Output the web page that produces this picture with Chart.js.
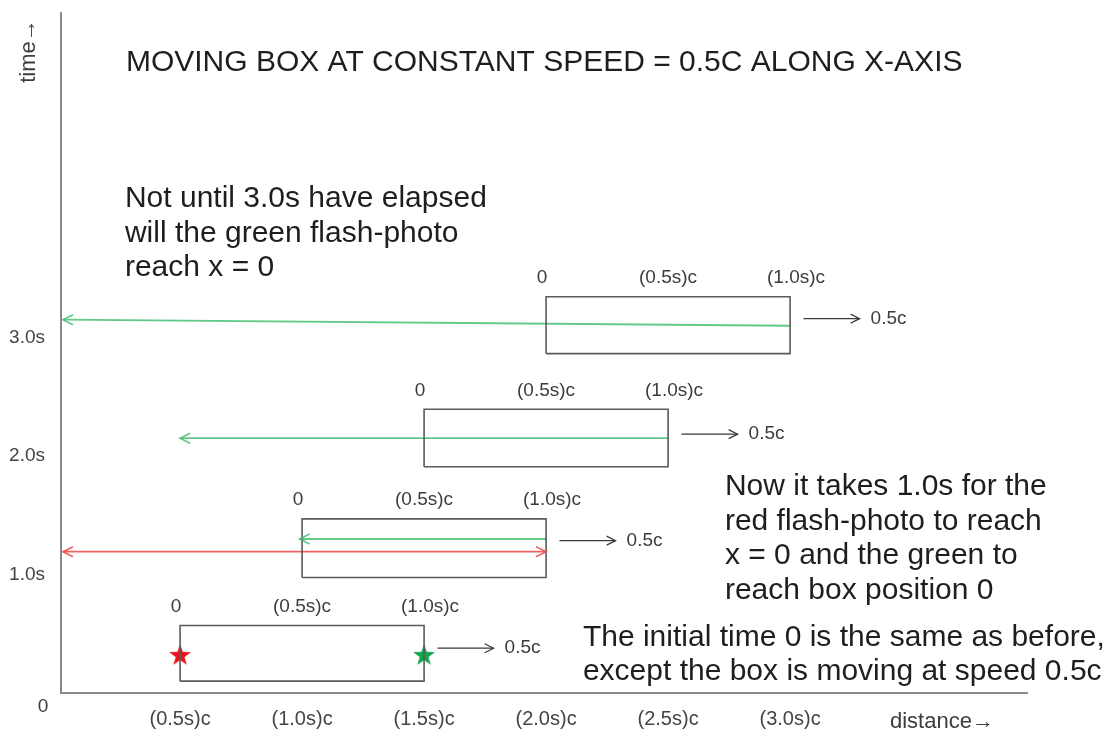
<!DOCTYPE html>
<html>
<head>
<meta charset="utf-8">
<script src="https://cdn.jsdelivr.net/npm/chart.js@4"></script>
<style>
  html, body { margin: 0; background: #fff; }
  #wrap { width: 1114px; height: 732px; position: relative; }
</style>
</head>
<body>
<div id="wrap"><canvas id="diagram"></canvas></div>
<script>
// axis ticks
const xTicks = [0.5, 1.0, 1.5, 2.0, 2.5, 3.0];
const xTickLabels = ['(0.5s)c', '(1.0s)c', '(1.5s)c', '(2.0s)c', '(2.5s)c', '(3.0s)c'];
const yTicks = [1, 2, 3];
const yTickLabels = ['1.0s', '2.0s', '3.0s'];

// the moving box at four moments (distance units, row height units)
const boxLeft   = [0.5, 1.0, 1.5, 2.0];
const boxRight  = [1.5, 2.0, 2.5, 3.0];
const boxBottom = [0.10, 0.975, 1.91, 2.865];
const boxTop    = [0.57, 1.47, 2.395, 3.345];
const boxMarks  = ['0', '(0.5s)c', '(1.0s)c'];
const speedY    = [0.378, 1.286, 2.185, 3.16];
const speedText = '0.5c';

// flash-photo light paths
const flashKind  = ['green', 'green', 'red', 'green'];
const flashFromX = [3.0, 2.5, 0.02, 2.0];
const flashFromY = [3.10, 2.151, 1.193, 1.30];
const flashToX   = [0.02, 0.5, 2.0, 0.99];
const flashToY   = [3.151, 2.151, 1.193, 1.30];
const flashBoth  = [false, false, true, false];

// flashes going off at time 0
const starKind = ['red', 'green'];
const starX = [0.5, 1.5];
const starY = [0.32, 0.32];

const title = 'MOVING BOX AT CONSTANT SPEED = 0.5C ALONG X-AXIS';
const notes = [
  { x: 0.274, y: 4.17, lines: ['Not until 3.0s have elapsed', 'will the green flash-photo', 'reach x = 0'] },
  { x: 2.733, y: 1.74, lines: ['Now it takes 1.0s for the', 'red flash-photo to reach', 'x = 0 and the green to', 'reach box position 0'] },
  { x: 2.151, y: 0.47, lines: ['The initial time 0 is the same as before,', 'except the box is moving at speed 0.5c'] }
];
const titlePos = { x: 0.278, y: 5.32 };

const FONT = '"Liberation Sans", Arial, sans-serif';
const colors = { green: 'rgba(70, 190, 115, 0.85)', red: 'rgba(240, 80, 80, 0.9)' };
const starColors = { red: '#e8141b', green: '#12a64c' };

function makeStar(color) {
  const c = document.createElement('canvas');
  c.width = 24; c.height = 24;
  const g = c.getContext('2d');
  g.fillStyle = color;
  g.beginPath();
  for (let i = 0; i < 10; i++) {
    const r = i % 2 ? 4.6 : 11.5;
    const a = -Math.PI / 2 + i * Math.PI / 5;
    g.lineTo(12 + r * Math.cos(a), 12.5 + r * Math.sin(a));
  }
  g.closePath();
  g.fill();
  return c;
}

function arrowHead(ctx, x1, y1, x2, y2, len, half) {
  const a = Math.atan2(y2 - y1, x2 - x1);
  const c = Math.cos(a), s = Math.sin(a);
  ctx.beginPath();
  ctx.moveTo(x2 - len * c + half * s, y2 - len * s - half * c);
  ctx.lineTo(x2, y2);
  ctx.lineTo(x2 - len * c - half * s, y2 - len * s + half * c);
  ctx.stroke();
}

const datasets = [];
boxLeft.forEach((l, i) => {
  datasets.push({
    role: 'box',
    data: [
      { x: l, y: boxBottom[i] }, { x: boxRight[i], y: boxBottom[i] },
      { x: boxRight[i], y: boxTop[i] }, { x: l, y: boxTop[i] }, { x: l, y: boxBottom[i] }
    ],
    borderColor: '#5a5a5a',
    borderWidth: 1.6
  });
});
flashKind.forEach((k, i) => {
  datasets.push({
    role: 'flash',
    index: i,
    data: [{ x: flashFromX[i], y: flashFromY[i] }, { x: flashToX[i], y: flashToY[i] }],
    borderColor: colors[k],
    borderWidth: 1.8
  });
});
boxRight.forEach((r, i) => {
  datasets.push({
    role: 'speed',
    data: [{ x: r + 0.055, y: speedY[i] }, { x: r + 0.285, y: speedY[i] }],
    borderColor: '#3a3a3a',
    borderWidth: 1.2
  });
});
datasets.push({
  role: 'star',
  data: starX.map((x, i) => ({ x: x, y: starY[i] })),
  showLine: false,
  pointStyle: starKind.map(k => makeStar(starColors[k])),
  pointRadius: 12
});

const diagramPlugin = {
  id: 'diagram',
  afterDatasetsDraw(chart) {
    const ctx = chart.ctx;
    const xs = chart.scales.x, ys = chart.scales.y;
    ctx.save();

    // arrowheads
    chart.data.datasets.forEach((ds, di) => {
      const pts = chart.getDatasetMeta(di).data;
      if (ds.role === 'flash') {
        ctx.strokeStyle = ds.borderColor;
        ctx.lineWidth = 1.6;
        arrowHead(ctx, pts[0].x, pts[0].y, pts[1].x, pts[1].y, 10, 5);
        if (flashBoth[ds.index]) arrowHead(ctx, pts[1].x, pts[1].y, pts[0].x, pts[0].y, 10, 5);
      } else if (ds.role === 'speed') {
        ctx.strokeStyle = ds.borderColor;
        ctx.lineWidth = 1.2;
        arrowHead(ctx, pts[0].x, pts[0].y, pts[1].x, pts[1].y, 9, 4.5);
      }
    });

    // box position marks and speed labels
    ctx.fillStyle = '#3c3c3c';
    ctx.font = '19px ' + FONT;
    ctx.textBaseline = 'middle';
    ctx.textAlign = 'center';
    boxLeft.forEach((l, i) => {
      const yTop = ys.getPixelForValue(boxTop[i]) - 19;
      const px = [xs.getPixelForValue(l) - 4, xs.getPixelForValue((l + boxRight[i]) / 2), xs.getPixelForValue(boxRight[i]) + 6];
      boxMarks.forEach((m, j) => ctx.fillText(m, px[j], yTop));
    });
    ctx.textAlign = 'left';
    boxRight.forEach((r, i) => {
      ctx.fillText(speedText, xs.getPixelForValue(r + 0.33), ys.getPixelForValue(speedY[i]));
    });

    // title and notes
    ctx.fillStyle = '#1e1e1e';
    ctx.font = '30px ' + FONT;
    ctx.fillText(title, xs.getPixelForValue(titlePos.x), ys.getPixelForValue(titlePos.y));
    notes.forEach(n => {
      const x = xs.getPixelForValue(n.x);
      const y0 = ys.getPixelForValue(n.y);
      n.lines.forEach((line, k) => ctx.fillText(line, x, y0 + k * 34.5));
    });

    // origin and axis names
    ctx.fillStyle = '#3c3c3c';
    ctx.font = '19px ' + FONT;
    ctx.textAlign = 'center';
    ctx.fillText('0', xs.left - 18, ys.bottom + 14);
    ctx.font = '22px ' + FONT;
    ctx.textAlign = 'left';
    ctx.fillText('distance\u2192', xs.left + 829, ys.bottom + 29);
    ctx.translate(xs.left - 32, ys.top + 38);
    ctx.rotate(-Math.PI / 2);
    ctx.textAlign = 'center';
    ctx.fillText('time\u2192', 0, 0);
    ctx.restore();
  }
};

new Chart(document.getElementById('diagram'), {
  type: 'scatter',
  data: { datasets: datasets },
  options: {
    responsive: true,
    maintainAspectRatio: false,
    animation: false,
    showLine: true,
    elements: { point: { radius: 0, hoverRadius: 0 }, line: { tension: 0 } },
    layout: { padding: { top: 10, right: 87, left: 0, bottom: 0 } },
    plugins: { legend: { display: false }, tooltip: { enabled: false } },
    events: [],
    scales: {
      x: {
        type: 'linear',
        min: 0.012,
        max: 3.971,
        grid: { display: false, drawTicks: false },
        border: { display: true, color: '#8a8a8a', width: 2 },
        afterBuildTicks: s => { s.ticks = xTicks.map(v => ({ value: v })); },
        afterFit: s => { s.height = 39; s.paddingLeft = 0; s.paddingRight = 0; },
        ticks: {
          autoSkip: false,
          maxRotation: 0,
          padding: 14,
          color: '#444',
          font: { family: FONT, size: 20 },
          callback: v => xTickLabels[xTicks.indexOf(v)]
        }
      },
      y: {
        type: 'linear',
        min: 0,
        max: 5.74,
        grid: { display: false, drawTicks: false },
        border: { display: true, color: '#8a8a8a', width: 2 },
        afterBuildTicks: s => { s.ticks = yTicks.map(v => ({ value: v })); },
        afterFit: s => { s.width = 61; s.paddingTop = 0; s.paddingBottom = 0; },
        ticks: {
          padding: 16,
          color: '#444',
          font: { family: FONT, size: 19 },
          callback: v => yTickLabels[yTicks.indexOf(v)]
        }
      }
    }
  },
  plugins: [diagramPlugin]
});
</script>
</body>
</html>
